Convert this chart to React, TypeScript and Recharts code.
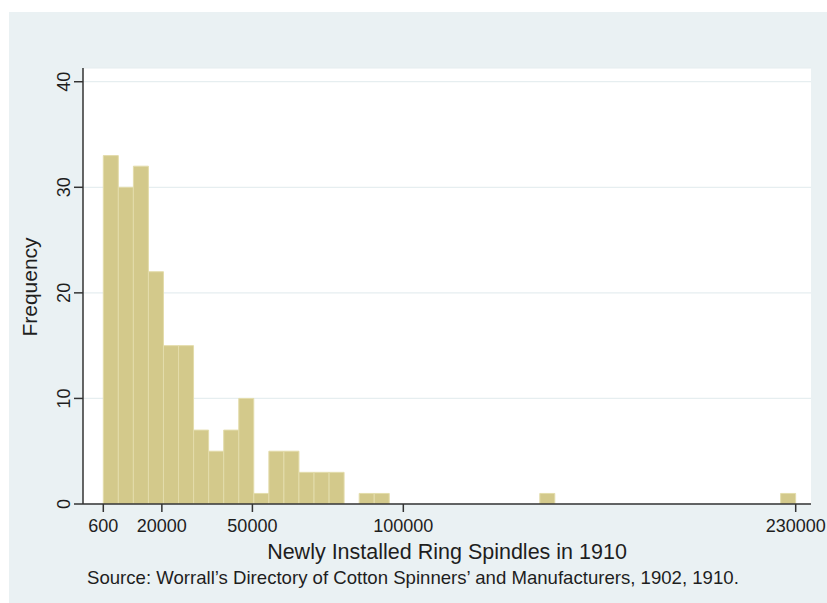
import { BarChart, Bar, XAxis, YAxis, CartesianGrid } from "recharts";

// histogram of newly installed ring spindles, 46 bins from 600 to 230000
const BIN_START = 600;
const BIN_END = 230000;
const COUNTS = [
  33, 30, 32, 22, 15, 15, 7, 5, 7, 10, 1, 5, 5, 3, 3, 3, 0, 1, 1, 0,
  0, 0, 0, 0, 0, 0, 0, 0, 0, 1, 0, 0, 0, 0, 0, 0, 0, 0, 0, 0,
  0, 0, 0, 0, 0, 1,
];
const X_TICKS = [600, 20000, 50000, 100000, 230000];
const Y_TICKS = [0, 10, 20, 30, 40];

const binWidth = (BIN_END - BIN_START) / COUNTS.length;
const data = COUNTS.map((count, i) => ({ mid: BIN_START + (i + 0.5) * binWidth, count }));

const FONT = "'Liberation Sans', Arial, Helvetica, sans-serif";
const INK = "#1e1e1e";

function YTick({ x, y, payload }: any) {
  return (
    <text x={x} y={y} transform={`rotate(-90 ${x} ${y})`} textAnchor="middle" fill={INK} fontSize={18} fontFamily={FONT}>
      {payload.value}
    </text>
  );
}

export default function App() {
  return (
    <div style={{ position: "absolute", left: 0, top: 0, width: 827, height: 603, background: "#fff", fontFamily: FONT }}>
      <div style={{ position: "absolute", left: 9, top: 12, right: 0, bottom: 0, background: "#eaf1f3" }} />
      <div style={{ position: "absolute", left: 0, top: 0 }}>
        <BarChart width={827} height={603} data={data} margin={{ top: 68, right: 16, left: 0, bottom: 69 }} barCategoryGap={0} barGap={0}>
          <CartesianGrid vertical={false} fill="#ffffff" stroke="#e6eef0" strokeWidth={1.2} />
          <XAxis
            type="number"
            dataKey="mid"
            domain={[-6126, 235070]}
            ticks={X_TICKS}
            interval={0}
            allowDataOverflow
            height={30}
            tickSize={8}
            tickMargin={7}
            stroke="#333"
            strokeWidth={1.5}
            tick={{ fill: INK, fontSize: 18, fontFamily: FONT }}
          />
          <YAxis
            type="number"
            domain={[0, 41.3]}
            ticks={Y_TICKS}
            interval={0}
            allowDataOverflow
            width={83}
            tickSize={9}
            tickMargin={4}
            stroke="#333"
            strokeWidth={1.5}
            tick={<YTick />}
          />
          <Bar dataKey="count" fill="#d3c98b" stroke="#e3dcab" strokeWidth={1} isAnimationActive={false} />
        </BarChart>
      </div>
      <div style={{ position: "absolute", left: 30, top: 287, transform: "translate(-50%, -50%) rotate(-90deg)", fontSize: 21, color: INK, whiteSpace: "nowrap" }}>
        Frequency
      </div>
      <div style={{ position: "absolute", left: 447, top: 552, transform: "translate(-50%, -50%)", fontSize: 21.5, color: INK, whiteSpace: "nowrap" }}>
        Newly Installed Ring Spindles in 1910
      </div>
      <div style={{ position: "absolute", left: 87, top: 578, transform: "translateY(-50%)", fontSize: 18.6, color: INK, whiteSpace: "nowrap" }}>
        Source: Worrall’s Directory of Cotton Spinners’ and Manufacturers, 1902, 1910.
      </div>
    </div>
  );
}
